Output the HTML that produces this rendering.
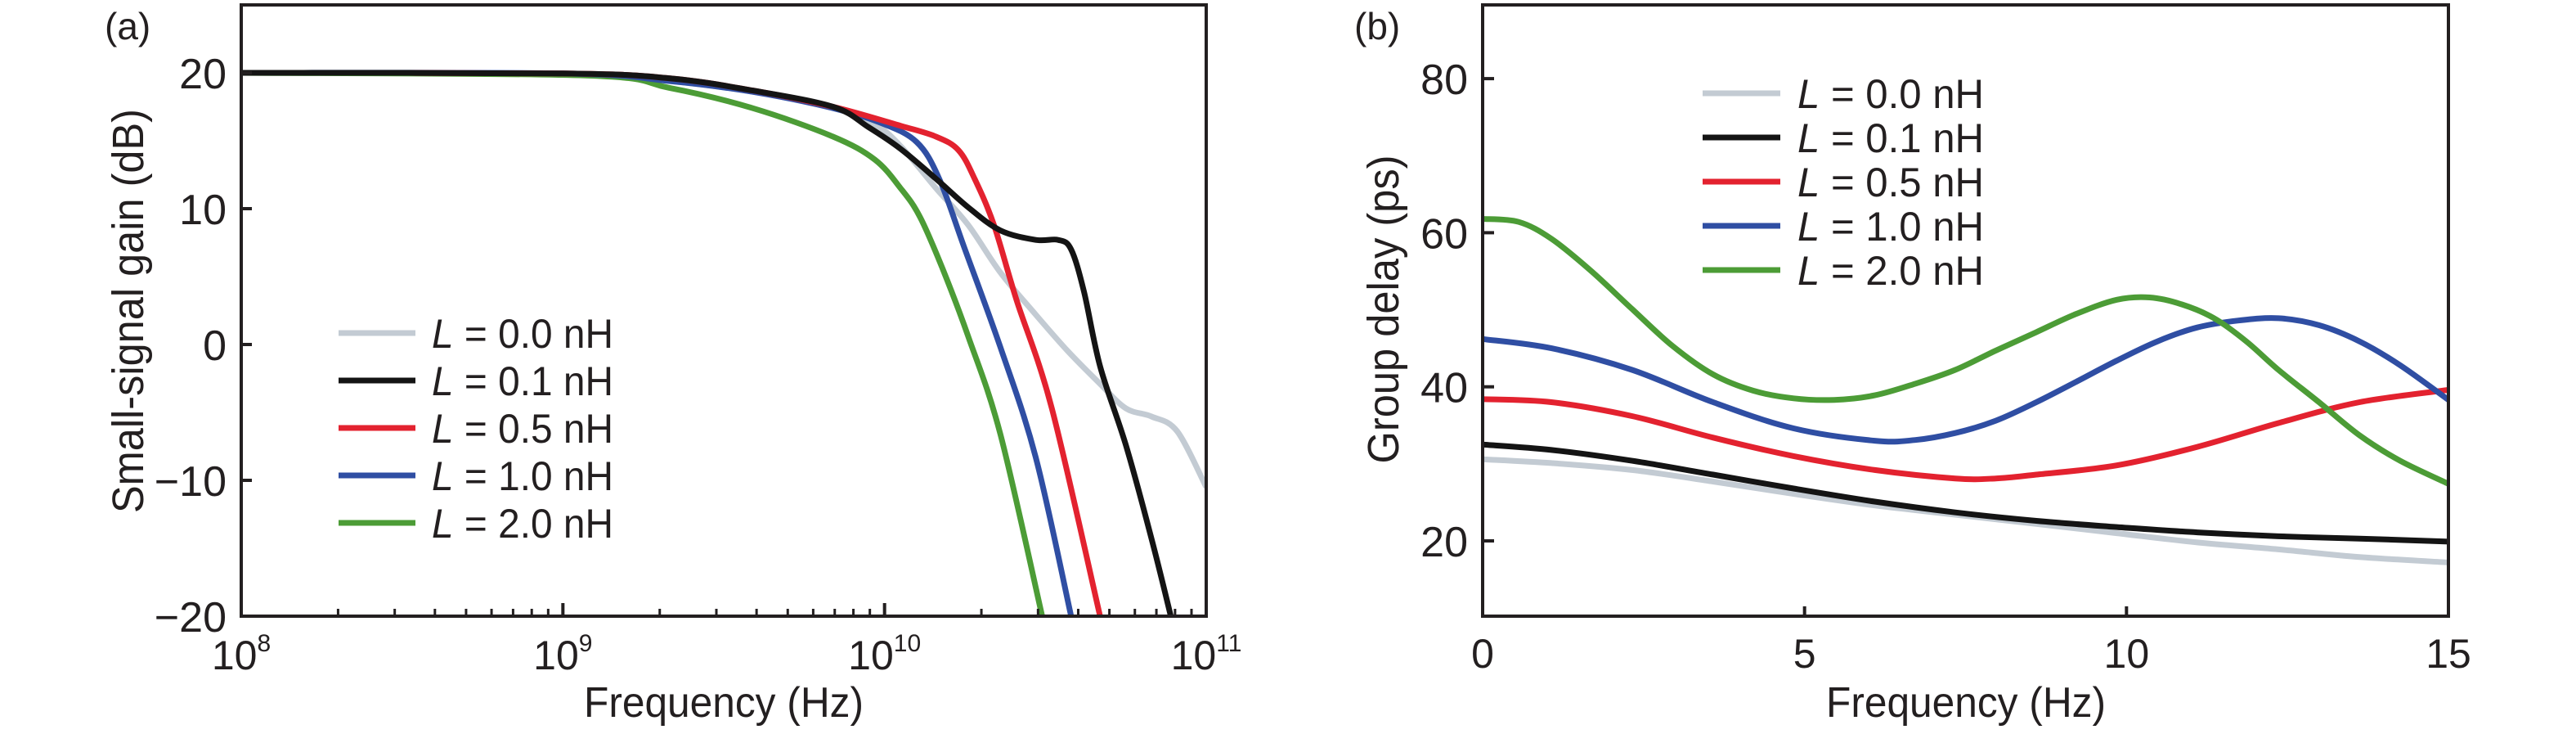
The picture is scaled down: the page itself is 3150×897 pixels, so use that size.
<!DOCTYPE html>
<html><head><meta charset="utf-8"><style>
html,body{margin:0;padding:0;background:#fff;}
svg{display:block;font-family:"Liberation Sans",sans-serif;}
</style></head><body>
<svg id="fig" width="3150" height="897" viewBox="0 0 3150 897" xmlns="http://www.w3.org/2000/svg">
<g id="pa"></g>
<g id="pb"></g>
</svg>
<script>
// ---- Panel (a) data: log10(frequency) and gain in dB ----
const aNames = ["L = 0.0 nH","L = 0.1 nH","L = 0.5 nH","L = 1.0 nH","L = 2.0 nH"];
const aColors = ["#c3cbd3","#141414","#e3222f","#2f4ea3","#4c9c36"];
const aX0 = [8,9,9.33,9.59,9.84,9.97,10.05,10.16,10.26,10.36,10.47,10.57,10.67,10.75,10.83,10.91,11];
const aY0 = [20,19.95,19.4,18.6,17.4,16.2,14.6,11.5,8.8,5.3,2.2,-0.5,-2.9,-4.7,-5.3,-6.4,-10.5];
const aX1 = [8,9,9.33,9.59,9.84,9.95,10.05,10.16,10.26,10.36,10.47,10.54,10.58,10.62,10.67,10.75,10.83,10.89];
const aY1 = [20,19.95,19.6,18.7,17.5,16.0,14.4,12.2,10.1,8.4,7.7,7.7,7.0,3.9,-1.6,-7.4,-14.3,-20];
const aX2 = [8,9,9.33,9.59,9.84,10.05,10.16,10.23,10.28,10.34,10.41,10.52,10.67];
const aY2 = [20,19.95,19.6,18.7,17.5,16.1,15.3,14.3,12.2,8.8,3.3,-4.7,-20];
const aX3 = [8,9,9.33,9.59,9.84,9.99,10.10,10.17,10.25,10.36,10.47,10.58];
const aY3 = [20,19.95,19.4,18.6,17.4,16.3,14.9,12.2,7.0,-0.2,-8.3,-20];
const aX4 = [8,9.07,9.33,9.59,9.84,9.97,10.05,10.11,10.18,10.26,10.36,10.49];
const aY4 = [20,19.8,18.9,17.4,15.3,13.6,11.5,9.4,5.6,0.6,-6.6,-20];
const aYTicks = [20,10,0,-10,-20];
const aYTickLabels = ["20","10","0","\u221210","\u221220"];
const aXDecades = [8,9,10,11];

// ---- Panel (b) data: frequency and group delay (ps) ----
const bX0 = [0,1.07,2.32,3.58,4.83,6.09,7.34,8.6,9.85,11.1,12.36,13.62,15];
const bY0 = [30.6,30.1,29.2,27.7,26.1,24.6,23.4,22.2,21.0,19.8,18.9,17.9,17.2];
const bX1 = [0,1.07,2.32,3.58,4.83,6.09,7.34,8.6,9.85,11.1,12.36,13.62,15];
const bY1 = [32.5,31.8,30.4,28.6,26.8,25.1,23.7,22.6,21.8,21.1,20.6,20.3,19.9];
const bX2 = [0,1.07,2.32,3.58,4.83,6.09,7.34,7.97,8.6,9.85,11.1,12.36,13.62,15];
const bY2 = [38.4,38.0,36.2,33.4,31.0,29.2,28.1,28.1,28.6,29.8,32.2,35.3,38.0,39.6];
const bX3 = [0,1.07,2.32,3.58,4.83,6.09,6.72,7.34,7.97,8.6,9.23,9.85,10.48,11.1,11.74,12.36,12.99,13.62,14.25,15];
const bY3 = [46.2,45.0,42.2,38.0,34.6,33.0,33.1,34.0,35.6,38.0,40.7,43.4,45.9,47.7,48.6,48.9,48.0,45.9,42.8,38.3];
const bX4 = [0,0.56,1.07,1.69,2.32,2.95,3.58,4.2,4.83,5.46,6.09,6.72,7.34,7.97,8.6,9.23,9.85,10.36,10.86,11.36,11.86,12.36,12.99,13.62,14.25,15];
const bY4 = [61.8,61.4,59.2,55.0,50.1,45.3,41.6,39.5,38.5,38.3,38.9,40.4,42.2,44.7,47.1,49.5,51.3,51.6,50.7,48.9,45.9,42.2,38.0,33.7,30.4,27.4];
const bYTicks = [20,40,60,80];
const bXTicks = [0,5,10,15];

const NS = "http://www.w3.org/2000/svg";
function mk(parent, tag, attrs, text){
  const e = document.createElementNS(NS, tag);
  for (const k in attrs) e.setAttribute(k, attrs[k]);
  if (text !== undefined) e.textContent = text;
  parent.appendChild(e);
  return e;
}
function smoothPath(pts){
  let d = "M" + pts[0][0].toFixed(1) + "," + pts[0][1].toFixed(1);
  for (let i = 0; i < pts.length - 1; i++){
    const p0 = pts[i-1] || pts[i], p1 = pts[i], p2 = pts[i+1], p3 = pts[i+2] || p2;
    const c1x = p1[0] + (p2[0]-p0[0])/6, c1y = p1[1] + (p2[1]-p0[1])/6;
    const c2x = p2[0] - (p3[0]-p1[0])/6, c2y = p2[1] - (p3[1]-p1[1])/6;
    d += " C" + c1x.toFixed(1)+","+c1y.toFixed(1)+" "+c2x.toFixed(1)+","+c2y.toFixed(1)+" "+p2[0].toFixed(1)+","+p2[1].toFixed(1);
  }
  return d;
}

// ===== Panel A =====
(function(){
  const g = document.getElementById('pa');
  const L = 295, R = 1475, T = 6, B = 753;
  const xs = v => L + (v - 8) / 3 * (R - L);
  const ys = v => B - (v + 20) / 45 * (B - T);
  const clip = mk(g, 'clipPath', {id:'clipA'});
  mk(clip, 'rect', {x:L, y:T, width:R-L, height:B-T});
  const seriesX = [aX0,aX1,aX2,aX3,aX4];
  const seriesY = [aY0,aY1,aY2,aY3,aY4];
  const order = [0,4,3,2,1];
  order.forEach(i => {
    const pts = seriesX[i].map((x,j) => [xs(x), ys(seriesY[i][j])]);
    const p = mk(g, 'path', {d: smoothPath(pts), fill:'none', stroke:aColors[i], 'stroke-width':7, 'clip-path':'url(#clipA)', 'stroke-linejoin':'round'});
    
    
  });
  const frame = mk(g, 'rect', {x:L, y:T, width:R-L, height:B-T, fill:'none', stroke:'#231f20', 'stroke-width':4});
  
  
  aYTicks.forEach((v,i) => {
    const y = ys(v);
    mk(g, 'line', {x1:L, x2:L+13, y1:y, y2:y, stroke:'#231f20', 'stroke-width':4});
    const t = mk(g, 'text', {x:L-18, y:y+19, 'font-size':52, 'text-anchor':'end', fill:'#231f20'}, aYTickLabels[i]);
    
    
  });
  aXDecades.forEach((dec, k) => {
    const x = xs(dec);
    mk(g, 'line', {x1:x, x2:x, y1:B, y2:B-16, stroke:'#231f20', 'stroke-width':4});
    if (k < aXDecades.length - 1) {
      for (let m = 2; m <= 9; m++){
        const xm = xs(dec + Math.log10(m));
        mk(g, 'line', {x1:xm, x2:xm, y1:B, y2:B-9, stroke:'#231f20', 'stroke-width':3});
      }
    }
    const t = mk(g, 'text', {x:x, y:818, 'font-size':50, 'text-anchor':'middle', fill:'#231f20'});
    
    
    mk(t, 'tspan', {}, '10');
    mk(t, 'tspan', {'font-size':30, dy:-22}, String(dec));
  });
  const xt = mk(g, 'text', {x:(L+R)/2, y:876, 'font-size':52, 'text-anchor':'middle', fill:'#231f20', textLength:342, lengthAdjust:'spacingAndGlyphs'}, 'Frequency (Hz)');
  
  
  const yt = mk(g, 'text', {x:0, y:0, 'font-size':54, 'text-anchor':'middle', fill:'#231f20', textLength:494, lengthAdjust:'spacingAndGlyphs', transform:'translate(175,380) rotate(-90)'}, 'Small-signal gain (dB)');
  
  
  const pl = mk(g, 'text', {x:128, y:48, 'font-size':46, fill:'#231f20'}, '(a)');
  
  
  const legendY = [407,465,523,581,639];
  aNames.forEach((n,i) => {
    const lg = mk(g, 'g', {});
    
    
    mk(lg, 'line', {x1:414, x2:508, y1:legendY[i], y2:legendY[i], stroke:aColors[i], 'stroke-width':7});
    const t = mk(lg, 'text', {x:528, y:legendY[i]+18, 'font-size':50, fill:'#231f20', textLength:222, lengthAdjust:'spacingAndGlyphs'});
    mk(t, 'tspan', {'font-style':'italic'}, 'L');
    mk(t, 'tspan', {}, n.slice(1));
  });
})();

// ===== Panel B =====
(function(){
  const g = document.getElementById('pb');
  const L = 1813, R = 2994, T = 6, B = 753;
  const xs = v => L + v / 15 * (R - L);
  const ys = v => 661 - (v - 20) * (188.3/20);
  const clip = mk(g, 'clipPath', {id:'clipB'});
  mk(clip, 'rect', {x:L, y:T, width:R-L, height:B-T});
  const seriesX = [bX0,bX1,bX2,bX3,bX4];
  const seriesY = [bY0,bY1,bY2,bY3,bY4];
  [0,1,2,3,4].forEach(i => {
    const pts = seriesX[i].map((x,j) => [xs(x), ys(seriesY[i][j])]);
    const p = mk(g, 'path', {d: smoothPath(pts), fill:'none', stroke:aColors[i], 'stroke-width':7, 'clip-path':'url(#clipB)'});
    
    
  });
  const frame = mk(g, 'rect', {x:L, y:T, width:R-L, height:B-T, fill:'none', stroke:'#231f20', 'stroke-width':4});
  
  
  bYTicks.forEach(v => {
    const y = ys(v);
    mk(g, 'line', {x1:L, x2:L+14, y1:y, y2:y, stroke:'#231f20', 'stroke-width':4});
    const t = mk(g, 'text', {x:L-18, y:y+19, 'font-size':52, 'text-anchor':'end', fill:'#231f20'}, String(v));
    
    
  });
  bXTicks.forEach(v => {
    const x = xs(v);
    mk(g, 'line', {x1:x, x2:x, y1:B, y2:B-12, stroke:'#231f20', 'stroke-width':4});
    const t = mk(g, 'text', {x:x, y:816, 'font-size':50, 'text-anchor':'middle', fill:'#231f20'}, String(v));
    
    
  });
  const xt = mk(g, 'text', {x:2404, y:876, 'font-size':52, 'text-anchor':'middle', fill:'#231f20', textLength:342, lengthAdjust:'spacingAndGlyphs'}, 'Frequency (Hz)');
  
  
  const yt = mk(g, 'text', {x:0, y:0, 'font-size':54, 'text-anchor':'middle', fill:'#231f20', textLength:377, lengthAdjust:'spacingAndGlyphs', transform:'translate(1710,378) rotate(-90)'}, 'Group delay (ps)');
  
  
  const pl = mk(g, 'text', {x:1656, y:48, 'font-size':46, fill:'#231f20'}, '(b)');
  
  
  const legendY = [114,168,222,276,330];
  aNames.forEach((n,i) => {
    const lg = mk(g, 'g', {});
    
    
    mk(lg, 'line', {x1:2082, x2:2177, y1:legendY[i], y2:legendY[i], stroke:aColors[i], 'stroke-width':7});
    const t = mk(lg, 'text', {x:2198, y:legendY[i]+18, 'font-size':50, fill:'#231f20', textLength:228, lengthAdjust:'spacingAndGlyphs'});
    mk(t, 'tspan', {'font-style':'italic'}, 'L');
    mk(t, 'tspan', {}, n.slice(1));
  });
})();
</script>
</body></html>
